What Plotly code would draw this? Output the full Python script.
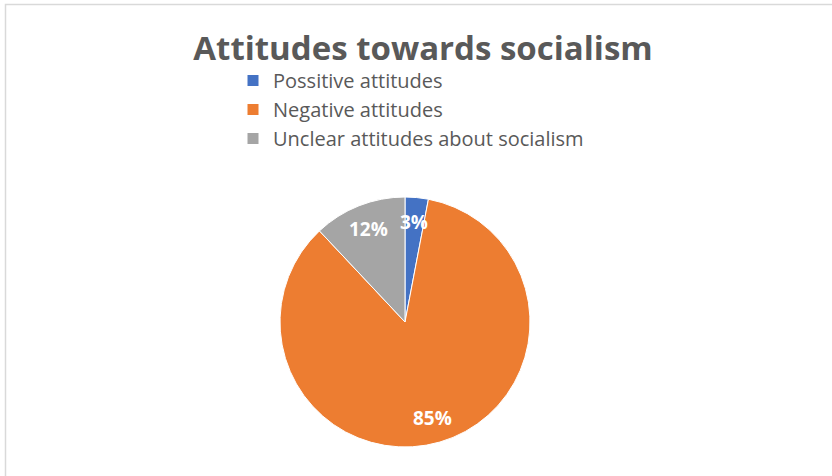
import math
import plotly.graph_objects as go

labels = ["Possitive attitudes", "Negative attitudes", "Unclear attitudes about socialism"]
values = [3, 85, 12]
colors = ["#4472C4", "#ED7D31", "#A5A5A5"]

W, H = 832, 476
cx, cy, r = 405, 322, 125

fig = go.Figure(go.Pie(
    labels=labels,
    values=values,
    sort=False,
    direction="clockwise",
    rotation=0,
    marker=dict(colors=colors, line=dict(color="white", width=1)),
    textinfo="none",
    hoverinfo="label+percent",
    domain=dict(x=[(cx - r) / W, (cx + r) / W], y=[(H - cy - r) / H, (H - cy + r) / H]),
))

# data labels placed at 0.8 of the radius on each slice's mid-angle (computed from values)
total = sum(values)
annotations = []
cum = 0
for v in values:
    mid = (cum + v / 2) / total * 2 * math.pi
    cum += v
    px = cx + 0.8 * r * math.sin(mid)
    py = cy - 0.8 * r * math.cos(mid)
    annotations.append(dict(
        x=px / W, y=1 - py / H, xref="paper", yref="paper", showarrow=False,
        text="<b>%d%%</b>" % round(v / total * 100),
        font=dict(family="Open Sans", size=19, color="white"),
        xanchor="center", yanchor="middle"))

fig.update_layout(
    width=W, height=H,
    margin=dict(l=0, r=0, t=0, b=0),
    paper_bgcolor="white",
    plot_bgcolor="white",
    title=dict(text="<b>Attitudes towards socialism</b>", x=423 / W, xanchor="center",
               y=1 - 48 / H, yanchor="middle",
               font=dict(family="Open Sans", size=33, color="#595959")),
    legend=dict(x=233 / W, y=1 - 61 / H, xanchor="left", yanchor="top",
                font=dict(family="Open Sans", size=20, color="#595959"),
                tracegroupgap=0, itemwidth=30, bgcolor="rgba(0,0,0,0)"),
    annotations=annotations,
    shapes=[dict(type="rect", xref="paper", yref="paper",
                 x0=5.5 / W, x1=1.2, y0=-0.2, y1=1 - 4.5 / H,
                 line=dict(color="#d9d9d9", width=1.5))],
)

fig.write_html("out.html", config={"displayModeBar": False},
               post_script="document.body.style.margin='0';")
